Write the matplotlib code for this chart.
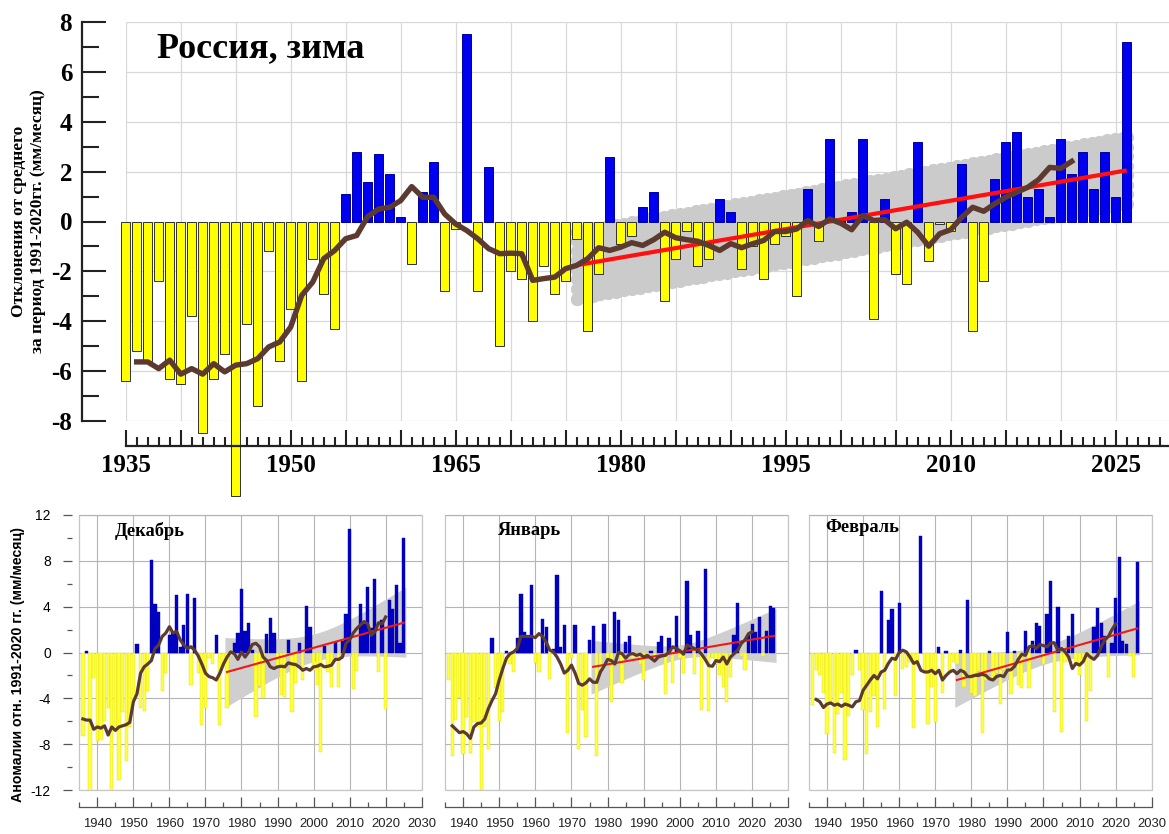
import numpy as np
import matplotlib
matplotlib.use("Agg")
import matplotlib.pyplot as plt
from matplotlib.ticker import MultipleLocator
from matplotlib.patches import Rectangle

W, H, DPI = 1169, 834, 100

plt.rcParams['font.family'] = ['Liberation Sans', 'DejaVu Sans']

# ---------------- Winter, Russia: anomalies of precipitation ----------------
winter_first_year = 1935
winter_anom = [
    -6.4, -5.2, -5.6, -2.4, -6.3, -6.5, -3.8, -8.5, -6.3, -5.3,     # 1935-1944
    -11.0, -4.1, -7.4, -1.2, -5.6, -3.5, -6.4, -1.5, -2.9, -4.3,    # 1945-1954
    1.1, 2.8, 1.6, 2.7, 1.9, 0.2, -1.7, 1.2, 2.4, -2.8,             # 1955-1964
    -0.3, 7.5, -2.8, 2.2, -5.0, -2.0, -2.3, -4.0, -1.8, -2.9,       # 1965-1974
    -2.4, -0.7, -4.4, -2.1, 2.6, -0.9, -0.6, 0.6, 1.2, -3.2,        # 1975-1984
    -1.5, -0.4, -1.8, -1.5, 0.9, 0.4, -1.9, -1.0, -2.3, -0.9,       # 1985-1994
    -0.6, -3.0, 1.3, -0.8, 3.3, 0.05, 0.4, 3.3, -3.9, 0.9,          # 1995-2004
    -2.1, -2.5, 3.2, -1.6, -0.1, -0.4, 2.3, -4.4, -2.4, 1.7,        # 2005-2014
    3.2, 3.6, 1.0, 1.3, 0.2, 3.3, 1.9, 2.8, 1.3, 2.8,               # 2015-2024
    1.0, 7.2,                                                       # 2025-2026
]
winter_smooth_first_year = 1936
winter_smooth = [
    -5.63, -5.63, -5.9, -5.56, -6.12, -5.9, -6.12, -5.7, -6.03, -5.76,   # 1936-1945
    -5.7, -5.5, -5.03, -4.83, -4.23, -2.96, -2.43, -1.49, -1.16, -0.69,  # 1946-1955
    -0.56, 0.2, 0.5, 0.57, 0.84, 1.4, 0.97, 0.97, 0.3, -0.1,             # 1956-1965
    -0.36, -0.69, -1.09, -1.29, -1.27, -1.29, -2.36, -2.29, -2.23, -1.89,  # 1966-1975
    -1.76, -1.49, -1.05, -1.16, -1.03, -0.85, -0.96, -0.73, -0.43, -0.65,  # 1976-1985
    -0.73, -0.79, -0.96, -1.16, -0.89, -1.05, -0.89, -0.76, -0.4, -0.4,    # 1986-1995
    -0.3, 0.04, -0.2, 0.1, -0.07, -0.33, 0.24, 0.04, 0.07, -0.29,          # 1996-2005
    -0.03, -0.43, -0.99, -0.49, -0.33, 0.17, 0.57, 0.41, 0.71, 0.97,       # 2006-2015
    1.17, 1.37, 1.68, 2.17, 2.13, 2.41,                                    # 2016-2021
]
winter_trend_years = [1976, 2026]
winter_trend_values = [-1.75, 2.05]
winter_band_halfwidth = 1.6

# ---------------- December ----------------
dec_first_year = 1936
dec_anom = [
    -7.3, 0.1, -12.2, -2.2, -7.7, -7.6, -6.0, -4.8, -12.1, -6.5,     # 1936-1945
    -11.1, -5.2, -9.5, -6.5, -4.2, 0.7, -4.8, -5.1, -3.4, 8.1,       # 1946-1955
    4.2, 3.5, -3.4, -1.8, 1.5, 1.8, 5.0, 0.5, 2.4, 5.1,              # 1956-1965
    -2.8, 4.8, -1.8, -6.3, -4.8, -0.5, -1.0, 1.5, -6.3, -1.2,        # 1966-1975
    -4.8, -0.3, 0.8, 1.7, 5.5, 1.9, 2.6, 0.2, -5.6, -2.9,            # 1976-1985
    -4.0, 1.6, 3.0, 1.7, -1.3, -3.7, -3.9, 1.1, -5.2, -2.7,          # 1986-1995
    0.8, -2.4, 4.1, 2.2, -1.5, -2.8, -8.7, 0.6, -1.7, -3.0,          # 1996-2005
    0.9, -3.0, 1.0, 3.4, 10.8, -3.2, -1.6, 4.2, 2.5, 5.7,            # 2006-2015
    2.1, 6.4, -1.7, 2.8, -4.9, 4.6, 3.8, 5.9, 0.8, 10.0,             # 2016-2025
]
dec_smooth_first_year = 1936
dec_smooth = [
    -5.8, -5.9, -5.9, -6.7, -6.5, -6.6, -6.4, -7.2, -6.5, -6.8,
    -6.5, -6.4, -6.3, -6.1, -4.3, -3.6, -1.8, -1.25, -1.0, -0.7,
    0.35, 0.65, 1.4, 1.7, 2.25, 1.7, 1.85, 1.1, 0.65, 0.35,
    0.5, 0.2, -0.3, -1.0, -1.8, -2.1, -2.2, -2.4, -1.8, -1.0,
    -0.4, 0.05, -0.1, -0.6, 0.05, -0.4, 0.05, 0.7, 0.8, 0.5,
    -0.4, -0.7, -1.25, -1.4, -1.25, -1.2, -1.25, -0.9, -1.0, -1.05,
    -1.25, -1.55, -1.4, -1.55, -1.25, -1.2, -1.05, -1.25, -1.2, -1.1,
    -0.6, -0.6, -0.4, 0.8, 1.1, 1.7, 2.1, 2.4, 2.7, 2.5,
    1.5, 1.8, 2.6, 2.5, 3.1,
]
dec_trend_years = [1976, 2025]
dec_trend_values = [-1.7, 2.6]
dec_band_halfwidth = [3.0, 1.2]   # at the ends, in the middle

# ---------------- January ----------------
jan_first_year = 1936
jan_anom = [
    -2.4, -9.0, -5.9, -4.0, -8.9, -5.6, -8.8, -6.1, -6.5, -12.0,     # 1936-1945
    -6.5, -8.4, 1.3, -3.1, -6.0, -5.2, 0.1, -1.0, -1.7, 1.3,         # 1946-1955
    5.1, 1.8, 1.3, 5.9, -0.9, -1.7, 2.9, 2.2, -2.3, 0.3,             # 1956-1965
    6.8, 0.5, 2.4, -7.0, -0.5, 2.4, -8.4, -5.0, -7.4, 1.1,           # 1966-1975
    2.3, -9.0, -1.5, 2.5, -0.8, -4.3, 3.5, 2.8, -2.7, 0.9,           # 1976-1985
    1.4, -0.5, -0.3, -1.0, -2.4, -0.5, 0.1, -0.5, 0.9, 1.4,          # 1986-1995
    -3.6, 1.3, -2.7, 3.2, -0.5, -1.8, 6.2, 1.5, -1.9, 1.9,           # 1996-2005
    -5.0, 7.3, -5.1, -0.5, -1.0, -2.0, -3.0, -4.3, -2.1, 1.5,        # 2006-2015
    4.3, -0.3, -1.5, 1.5, 2.5, 1.8, 3.1, -0.3, 1.9, 4.05,            # 2016-2025
    3.9,                                                             # 2026
]
jan_smooth_first_year = 1937
jan_smooth = [
    -6.4, -6.7, -7.0, -6.9, -7.1, -7.5, -6.5, -6.2, -6.15, -5.8,
    -4.9, -4.2, -3.6, -2.4, -1.4, -0.5, -0.1, 0.05, 0.35, 1.4,
    1.4, 1.4, 1.4, 1.3, 1.65, 1.4, 0.9, 0.2, 0.05, -0.4,
    -1.0, -1.8, -1.55, -1.1, -1.8, -2.7, -2.85, -2.65, -2.3, -2.6,
    -2.6, -1.7, -1.2, -0.6, -0.7, -1.0, 0.0, -0.1, -0.5, -0.15,
    -0.1, -0.25, -0.15, -0.4, -0.25, -0.5, -0.75, -0.4, -0.3, -0.25,
    0.05, 0.5, 0.35, 0.15, -0.15, 0.65, 0.5, 0.35, 0.2, -0.15,
    -0.6, -1.15, -1.2, -0.7, -0.8, -0.4, -1.0, -0.4, -0.1, 0.2,
    0.8, 1.1, 1.65, 1.8,
]
jan_trend_years = [1976, 2026]
jan_trend_values = [-1.25, 1.45]
jan_band_halfwidth = [2.3, 0.6]

# ---------------- February ----------------
feb_first_year = 1936
feb_anom = [
    -4.6, -1.5, -2.0, -3.5, -7.1, -4.5, -8.8, -5.4, -3.5, -9.4,      # 1936-1945
    -5.5, -2.0, 0.2, -1.5, -5.0, -8.9, -5.2, -3.8, -6.5, 5.4,        # 1946-1955
    -4.9, 2.8, 3.8, -3.8, 4.3, -1.4, -1.3, -0.8, -6.6, -1.2,         # 1956-1965
    10.2, -1.5, -6.2, -3.0, -6.1, 0.5, -3.5, 0.1, -1.5, -0.8,        # 1966-1975
    -1.0, 0.2, -3.0, 4.6, -3.5, -3.8, -1.6, -7.0, -2.4, 0.1,         # 1976-1985
    -2.5, -1.8, -4.5, -1.5, 1.8, -3.6, 0.1, -2.8, -3.1, 1.9,         # 1986-1995
    -3.1, 1.0, 2.6, 2.3, -1.0, 3.4, 6.2, -5.2, 4.0, -6.9,            # 1996-2005
    -0.8, 1.4, 3.4, -1.0, -2.0, -0.8, -6.0, -3.4, 2.2, 3.9,          # 2006-2015
    2.6, 1.4, -2.1, 0.8, 4.8, 8.3, 1.0, 0.7, -0.3, -2.1,             # 2016-2025
    7.9,                                                             # 2026
]
feb_smooth_first_year = 1937
feb_smooth = [
    -4.1, -4.3, -4.8, -4.5, -4.4, -4.6, -4.5, -4.7, -4.5, -4.6,
    -4.75, -4.3, -4.2, -3.3, -2.85, -2.4, -2.0, -2.3, -1.7, -1.55,
    -0.95, -0.5, -0.6, 0.0, 0.2, 0.05, -0.4, -0.95, -0.8, -1.55,
    -1.7, -1.7, -1.55, -1.85, -1.55, -2.4, -2.0, -1.7, -1.55, -1.85,
    -1.55, -1.7, -2.1, -2.1, -2.0, -2.0, -1.9, -2.0, -2.3, -2.4,
    -2.1, -2.0, -2.1, -1.55, -1.5, -1.2, -0.6, -0.15, -0.25, 0.5,
    0.6, 0.35, 0.7, 0.6, 0.5, 0.85, 0.85, 0.2, 0.35, 0.05,
    -0.4, -1.4, -0.95, -1.1, -0.8, -0.1, -0.4, -0.6, -0.25, 0.5,
    1.1, 1.4, 2.0, 2.5,
]
feb_trend_years = [1976, 2026]
feb_trend_values = [-2.4, 2.1]
feb_band_halfwidth = [2.3, 0.8]

# ---------------- text ----------------
main_title = "Россия, зима"
main_ylabel = "Отклонения от среднего\nза период 1991-2020гг. (мм/месяц)"
panel_ylabel = "Аномалии отн. 1991-2020 гг. (мм/месяц)"
panel_titles = ["Декабрь", "Январь", "Февраль"]

# ---------------- colours ----------------
YELLOW, BLUE = "#FFFF00", "#0000F0"
P_YELLOW, P_BLUE = "#FFFF3A", "#0000C8"
BROWN = "#5C3A30"
RED = "#FF1010"
BAND = "#CBCBCB"
SERIF = ["Liberation Serif", "DejaVu Serif"]
SANS = ["Liberation Sans", "DejaVu Sans"]


def px_rect(left, top, right, bottom):
    """Axes rectangle from pixel edges (origin at the top-left corner)."""
    return [left / W, 1 - bottom / H, (right - left) / W, (bottom - top) / H]


def years_for(first, values):
    return np.arange(first, first + len(values))


def trend_line(years, values, t):
    (x0, x1), (y0, y1) = years, values
    return y0 + (y1 - y0) * (np.asarray(t) - x0) / (x1 - x0)


fig = plt.figure(figsize=(W / DPI, H / DPI), dpi=DPI)

# =================== top chart ===================
x_right = 1935 + (W - 125.7) / 11.0
ax = fig.add_axes(px_rect(125.7, 22, W, 421))
ax.set_xlim(1935, x_right)
ax.set_ylim(-8, 8)
ax.set_axisbelow(True)

# confidence band with scalloped outline
t = np.linspace(winter_trend_years[0], winter_trend_years[1], 300)
centre = trend_line(winter_trend_years, winter_trend_values, t)
r_units = 0.26
ax.fill_between(t, centre - winter_band_halfwidth + r_units,
                centre + winter_band_halfwidth - r_units,
                color=BAND, lw=0, zorder=1)
ts = np.arange(winter_trend_years[0], winter_trend_years[1] + 0.01, 0.72)
cs = trend_line(winter_trend_years, winter_trend_values, ts)
for sgn in (-1, 1):
    ax.plot(ts, cs + sgn * (winter_band_halfwidth - r_units), 'o', ms=9.5,
            color=BAND, mec='none', zorder=1)
for tend in winter_trend_years:
    ce = trend_line(winter_trend_years, winter_trend_values, tend)
    yy = np.linspace(ce - winter_band_halfwidth + r_units,
                     ce + winter_band_halfwidth - r_units, 8)
    ax.plot(np.full_like(yy, tend), yy, 'o', ms=9.5, color=BAND, mec='none', zorder=1)

wy = years_for(winter_first_year, winter_anom)
wv = np.array(winter_anom)
ax.bar(wy[wv < 0], wv[wv < 0], width=0.85, color=YELLOW, edgecolor="#303030",
       linewidth=0.7, zorder=2, clip_on=False)
ax.bar(wy[wv >= 0], wv[wv >= 0], width=0.85, color=BLUE, edgecolor="#0000A0",
       linewidth=0.7, zorder=2, clip_on=False)
ax.plot(winter_trend_years, winter_trend_values, color=RED, lw=3.0, zorder=3,
        solid_capstyle='butt')
ax.plot(years_for(winter_smooth_first_year, winter_smooth), winter_smooth,
        color=BROWN, lw=3.9, zorder=4, solid_joinstyle='round')

for s in ("top", "right"):
    ax.spines[s].set_visible(False)
ax.spines["left"].set_position(("outward", 31.5))
ax.spines["bottom"].set_position(("outward", 18))
for s in ("left", "bottom"):
    ax.spines[s].set_linewidth(1.6)
    ax.spines[s].set_color("#222222")

yt = np.arange(-8, 9, 2)
ax.set_yticks(yt, labels=[f"{v:d}" for v in yt], fontfamily=SERIF,
              fontweight="bold", fontsize=18)
ax.yaxis.set_minor_locator(MultipleLocator(1))
ax.tick_params(axis="y", which="both", direction="in", width=1.5, color="#222222")
ax.tick_params(axis="y", which="major", length=17, pad=7)
ax.tick_params(axis="y", which="minor", length=12)

xt = np.arange(1935, 2026, 5)
ax.set_xticks(xt, labels=[str(v) if (v - 1935) % 15 == 0 else "" for v in xt],
              fontfamily=SERIF, fontweight="bold", fontsize=18)
ax.xaxis.set_minor_locator(MultipleLocator(1))
ax.tick_params(axis="x", which="both", direction="in", width=1.5, color="#222222")
ax.tick_params(axis="x", which="major", length=11.5, pad=6)
ax.tick_params(axis="x", which="minor", length=6.5)
ax.grid(True, which="major", color="#D8D8D8", lw=0.9)

fig.text(157 / W, 1 - 49 / H, main_title, fontfamily=SERIF, fontweight="bold",
         fontsize=26, ha="left", va="center")
fig.text(29 / W, 1 - 221 / H, main_ylabel, fontfamily=SERIF, fontweight="bold",
         fontsize=12.5, rotation=90, ha="center", va="center", linespacing=1.25,
         multialignment="center")

# =================== monthly panels ===================
panels = [
    (79.3, 421.7, dec_first_year, dec_anom, dec_smooth_first_year, dec_smooth,
     dec_trend_years, dec_trend_values, dec_band_halfwidth, (0.104, 0.942)),
    (445.0, 788.3, jan_first_year, jan_anom, jan_smooth_first_year, jan_smooth,
     jan_trend_years, jan_trend_values, jan_band_halfwidth, (0.151, 0.942)),
    (809.0, 1151.7, feb_first_year, feb_anom, feb_smooth_first_year, feb_smooth,
     feb_trend_years, feb_trend_values, feb_band_halfwidth, (0.047, 0.956)),
]

for i, (l, r, fy, anom, sfy, smooth, tyears, tvals, hw, tpos) in enumerate(panels):
    pa = fig.add_axes(px_rect(l, 515, r, 790))
    pa.set_xlim(1935, 2030)
    pa.set_ylim(-12, 12)
    pa.set_axisbelow(True)

    # hourglass-shaped confidence band around the trend
    tt = np.linspace(tyears[0] - 0.6, tyears[1] + 0.6, 200)
    cc = trend_line(tyears, tvals, tt)
    half_span = (tyears[1] - tyears[0]) / 2
    mid = (tyears[0] + tyears[1]) / 2
    he, hm = hw
    hh = np.sqrt(hm ** 2 + (he ** 2 - hm ** 2) * ((tt - mid) / half_span) ** 2)
    pa.fill_between(tt, cc - hh, cc + hh, color="#CFCFCF", lw=0, zorder=1)

    yrs = years_for(fy, anom)
    v = np.array(anom)
    pa.bar(yrs[v < 0], v[v < 0], width=0.9, color=P_YELLOW, edgecolor="#DADA20",
           linewidth=0.3, zorder=2)
    pa.bar(yrs[v >= 0], v[v >= 0], width=0.9, color=P_BLUE, edgecolor="#00009A",
           linewidth=0.3, zorder=2)
    pa.plot(tyears, tvals, color="#F01818", lw=1.5, zorder=3)
    pa.plot(years_for(sfy, smooth), smooth, color=BROWN, lw=2.3, zorder=4,
            solid_joinstyle="round")

    for s in ("top", "right", "left"):
        pa.spines[s].set_visible(False)
    pa.spines["bottom"].set_position(("outward", 12))
    pa.spines["bottom"].set_color("#555555")
    pa.spines["bottom"].set_linewidth(0.9)
    pa.add_patch(Rectangle((0, 0), 1, 1, transform=pa.transAxes, fill=False,
                           ec="#C6C6C6", lw=0.9, zorder=0.5, clip_on=False))

    px_ticks = np.arange(1940, 2031, 10)
    pa.set_xticks(px_ticks, labels=[str(v) for v in px_ticks], fontfamily=SANS,
                  fontsize=9.4, color="#222222")
    pa.set_xticks(np.arange(1935, 2026, 10), minor=True)
    pa.tick_params(axis="x", which="both", direction="in", width=0.9, color="#555555")
    pa.tick_params(axis="x", which="major", length=7, pad=8)
    pa.tick_params(axis="x", which="minor", length=3.6)

    py = np.arange(-12, 13, 4)
    pa.set_yticks(py, labels=[f"{v:d}" for v in py], fontfamily=SANS, fontsize=10.5,
                  color="#222222")
    pa.set_yticks(np.arange(-10, 11, 4), minor=True)
    pa.grid(True, which="major", color="#B4B4B4", lw=0.8)
    if i == 0:
        pa.spines["left"].set_position(("outward", 5))
        pa.tick_params(axis="y", which="both", direction="out", width=0.9,
                       color="#555555")
        pa.tick_params(axis="y", which="major", length=6.5, pad=9)
        pa.tick_params(axis="y", which="minor", length=3.5)
    else:
        pa.tick_params(axis="y", which="both", left=False, labelleft=False)

    pa.text(tpos[0], tpos[1], panel_titles[i], transform=pa.transAxes,
            fontfamily=SERIF, fontweight="bold", fontsize=13.2, ha="left",
            va="center", zorder=5)

fig.text(18 / W, 1 - 664 / H, panel_ylabel, fontfamily=SANS, fontweight="bold",
         fontsize=10.2, rotation=90, ha="center", va="center")

fig.savefig("out.png", dpi=DPI)
